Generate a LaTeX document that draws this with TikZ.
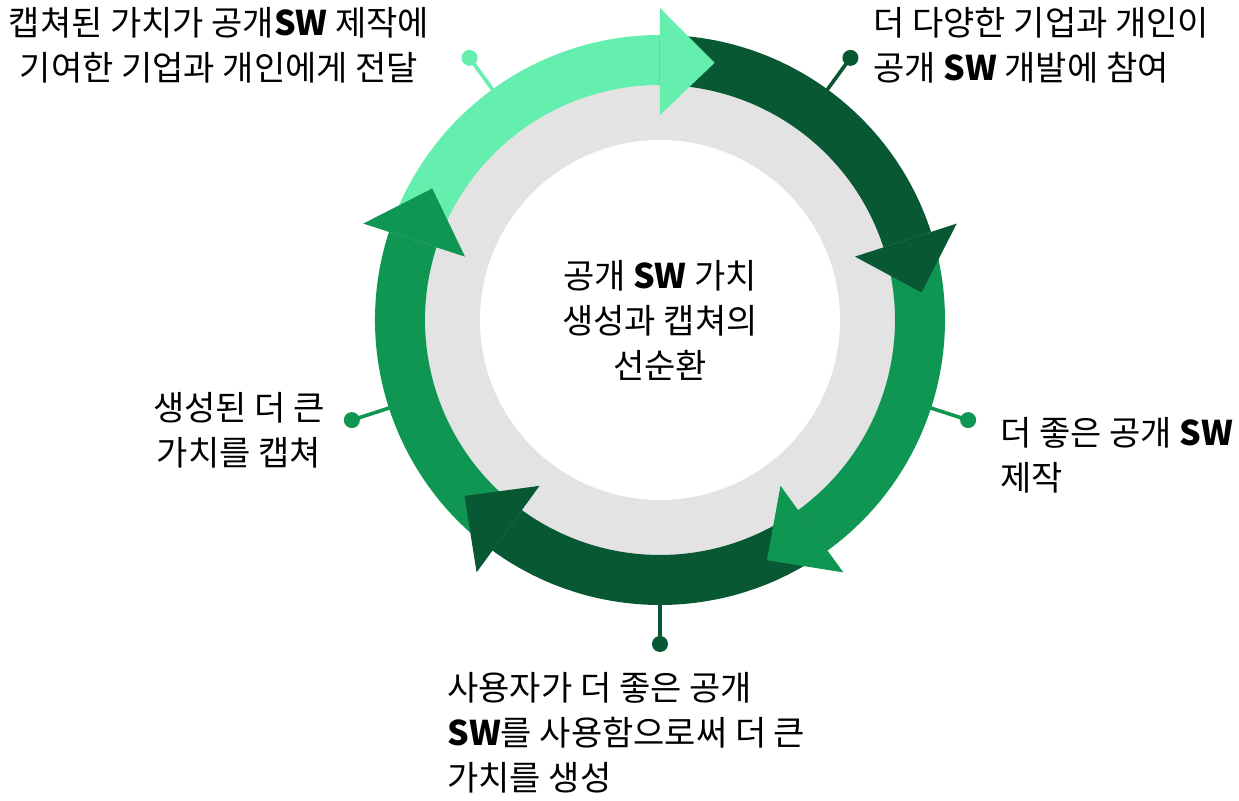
\documentclass[tikz,border=0pt]{standalone}
\usepackage{fontspec}
\setmainfont{Noto Sans CJK KR}
\definecolor{mint}{HTML}{64EFAE}
\definecolor{leaf}{HTML}{109653}
\definecolor{forest}{HTML}{095834}
\definecolor{ringgray}{HTML}{E3E3E3}
\tikzset{
	label text/.style={
		font=\fontsize{17}{22.5}\selectfont,
		inner sep=0pt,
		text=black,
	},
	pin dot/.style={
		circle,
		inner sep=0pt,
		minimum size=8pt,
	},
	pin line/.style={
		line width=1.8pt,
	},
}

\begin{document}
\begin{tikzpicture}[x=0.5pt, y=0.5pt]
		
		\useasboundingbox (-660,-481) rectangle (579,320);
		
		\fill [ringgray] (0,0) circle [radius=250];
		\fill [white] (0,0) circle [radius=180];
		
		% ring segments, then the heads on top
		\foreach \a/\c [evaluate=\a as \b using \a-72] in {162/mint, 90/forest, 18/leaf, -54/forest, -126/leaf}
			\fill [\c] (\a:285) arc [start angle=\a, end angle=\b, radius=285]
				-- (\b:235) arc [start angle=\b, end angle=\a, radius=235] -- cycle;
		\foreach \a/\c [evaluate=\a as \b using \a-72, evaluate=\a as \t using \a-84] in {162/mint, 90/forest, 18/leaf, -54/forest, -126/leaf}
			\fill [\c] (\b:205) -- (\t:263) -- (\b:312) -- cycle;
		
		\node [label text, align=center] (title) at (0,0) {공개 \textbf{SW} 가치\\생성과 캡쳐의\\선순환};
		
		\foreach \m/\c/\n in {126/mint/1, 54/forest/2, -18/leaf/3, -90/forest/4, -162/leaf/5} {
			\coordinate (rim\n) at (\m:283);
			\node [pin dot, fill=\c] (dot\n) at (\m:324) {};
			\draw [pin line, \c] (rim\n) -- (dot\n.center);
		}
		
		\node [label text, align=center] (share) at (-441,275) {캡쳐된 가치가 공개\textbf{SW} 제작에\\기여한 기업과 개인에게 전달};
		\node [label text, align=left, anchor=west] (join) at (213,275) {더 다양한 기업과 개인이\\공개 \textbf{SW} 개발에 참여};
		\node [label text, align=left, anchor=west] (build) at (340,-135) {더 좋은 공개 \textbf{SW}\\제작};
		\node [label text, align=left, anchor=west] (use) at (-213,-413) {사용자가 더 좋은 공개\\\textbf{SW}를 사용함으로써 더 큰\\가치를 생성};
		\node [label text, align=center] (gain) at (-421,-110) {생성된 더 큰\\가치를 캡쳐};
		
	\end{tikzpicture}
\end{document}
